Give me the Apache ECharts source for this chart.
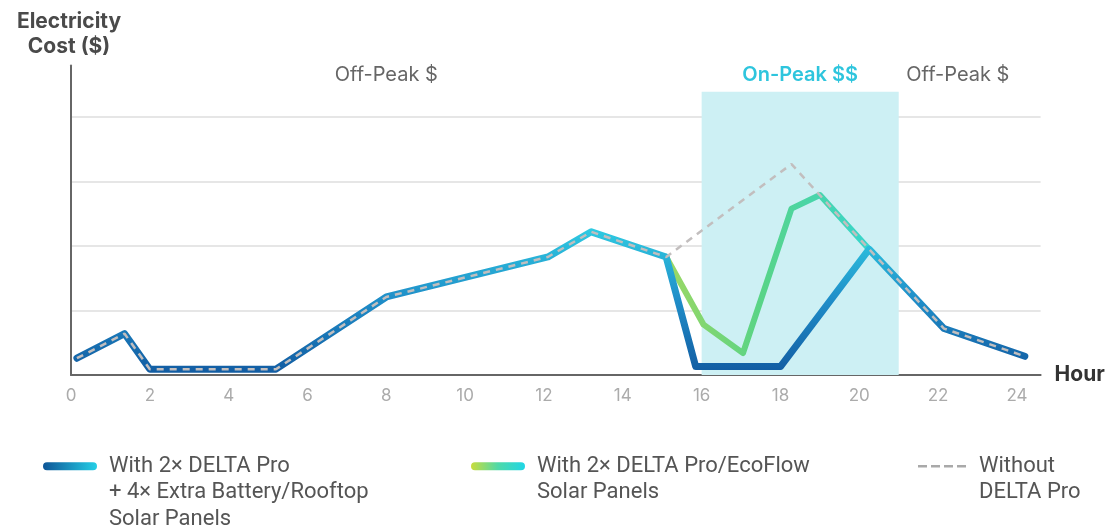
<!DOCTYPE html>
<html><head><meta charset="utf-8">
<script src="https://cdn.jsdelivr.net/npm/echarts@6/dist/echarts.min.js"></script>
<style>html,body{margin:0;padding:0;background:#fff}#c{width:1113px;height:527px}</style>
</head><body><div id="c"></div>
<script>
// ---- data (hours, relative cost) ----
const xTicks = [0, 2, 4, 6, 8, 10, 12, 14, 16, 18, 20, 22, 24];

const blueName = 'With 2× DELTA Pro + 4× Extra Battery/Rooftop Solar Panels';
const blueHours = [0.15, 1.36, 2, 5.2, 8, 12.1, 13.2, 15.1, 15.85, 18, 20.25, 22.15, 24.2];
const blueCost  = [0.26, 0.64, 0.09, 0.09, 1.21, 1.83, 2.22, 1.83, 0.13, 0.13, 1.95, 0.72, 0.29];

const greenName = 'With 2× DELTA Pro/EcoFlow Solar Panels';
const greenHours = [15.1, 16.05, 17.05, 18.28, 19, 20.25];
const greenCost  = [1.83, 0.78, 0.34, 2.58, 2.79, 1.95];

const grayName = 'Without DELTA Pro';
const grayHours = [0.15, 1.36, 2, 5.2, 8, 12.1, 13.2, 15.1, 18.28, 20.25, 22.15, 24.2];
const grayCost  = [0.26, 0.64, 0.09, 0.09, 1.21, 1.83, 2.22, 1.83, 3.27, 1.95, 0.72, 0.29];

const periodNames = ['Off-Peak $', 'On-Peak $$', 'Off-Peak $'];
const periodStart = [0, 16, 21];
const periodEnd   = [16, 21, 24];
const periodTop = 4.39;

const legendLines = {};
legendLines[blueName] = ['With 2× DELTA Pro', '+ 4× Extra Battery/Rooftop', 'Solar Panels'];
legendLines[greenName] = ['With 2× DELTA Pro/EcoFlow', 'Solar Panels'];
legendLines[grayName] = ['Without', 'DELTA Pro'];

// ---- build ----
const zip = (xs, ys) => xs.map((x, i) => [x, ys[i]]);
const G = echarts.graphic.LinearGradient;
const blueGradV = new G(0, 1, 0, 0, [{offset: 0, color: '#125ca2'}, {offset: 0.5, color: '#1f8dc8'}, {offset: 1, color: '#2fcbe2'}]);
const greenGradH = new G(0, 0, 1, 0, [{offset: 0, color: '#9fd862'}, {offset: 0.45, color: '#5ad485'}, {offset: 1, color: '#36d6cf'}]);
const blueLegend = new G(0, 0, 1, 0, [{offset: 0, color: '#0e5597'}, {offset: 1, color: '#25cfe6'}]);
const greenLegend = new G(0, 0, 1, 0, [{offset: 0, color: '#c9dc3c'}, {offset: 0.5, color: '#4fd9a8'}, {offset: 1, color: '#1fd6e6'}]);

const FONT = 'Inter, "Open Sans", sans-serif';
const LFONT = 'Roboto, "Noto Sans", sans-serif';
const LH = 26.5;

const areaData = periodNames.map((n, i) => {
  const on = i === 1;
  return [{
    name: n, xAxis: periodStart[i], yAxis: 0,
    itemStyle: {color: on ? '#cdf0f4' : 'rgba(0,0,0,0)'},
    label: {
      show: true, position: 'top', distance: 7, fontFamily: FONT, fontSize: 20,
      color: on ? '#2ec5dd' : '#666', fontWeight: on ? 600 : 'normal'
    }
  }, {xAxis: periodEnd[i], yAxis: periodTop}];
});

// legend icon: a shape on the first text line, inside an icon box as tall as the text block
function pillIcon(lines) {
  const h = lines * LH, y = LH / 2 - 4;
  return 'path://M4,' + y + 'h46a4,4 0 0 1 0,8h-46a4,4 0 0 1 0,-8z M0,0h0.01v0.01z M0,' + (h - 0.01) + 'h0.01v0.01z';
}
function dashIcon(lines) {
  const h = lines * LH, y = LH / 2 - 1.25;
  let p = 'path://';
  for (let i = 0; i < 4; i++) p += 'M' + (i * 13) + ',' + y + 'h9v2.5h-9z ';
  return p + 'M0,0h0.01v0.01z M0,' + (h - 0.01) + 'h0.01v0.01z';
}
function legendBlock(name, left, icon, iconColor, w) {
  const lines = legendLines[name].length;
  return {
    left: left, top: 448, orient: 'vertical', selectedMode: false,
    itemWidth: w, itemHeight: lines * LH,
    data: [{name: name, icon: icon, itemStyle: {color: iconColor}}],
    formatter: n => legendLines[n].join('\n'),
    textStyle: {fontFamily: LFONT, fontSize: 22, color: '#555', lineHeight: LH, padding: [0, 0, 0, 7]}
  };
}

const option = {
  animation: false,
  grid: {left: 71, right: 72.4, top: 65.4, bottom: 152},
  xAxis: {
    type: 'value', min: 0, max: 24.6,
    axisLine: {lineStyle: {color: '#666', width: 2}},
    axisTick: {show: false},
    splitLine: {show: false},
    axisLabel: {customValues: xTicks, color: '#ababab', fontSize: 17, margin: 12, fontFamily: FONT},
    name: 'Hour', nameLocation: 'end', nameGap: 14,
    nameTextStyle: {fontFamily: FONT, fontSize: 21, fontWeight: 'bold', color: '#333', verticalAlign: 'middle'}
  },
  yAxis: {
    type: 'value', min: 0, max: 4.8, interval: 1,
    axisLine: {show: true, lineStyle: {color: '#666', width: 2}},
    axisTick: {show: false},
    axisLabel: {show: false},
    splitLine: {lineStyle: {color: ['#e6e6e6', '#e6e6e6', '#e6e6e6', '#e6e6e6', '#e6e6e6', 'rgba(0,0,0,0)'], width: 2}},
    name: 'Electricity\nCost ($)', nameLocation: 'end', nameGap: 6,
    nameTextStyle: {fontFamily: FONT, fontSize: 21, fontWeight: 'bold', color: '#4a4a4a', align: 'center', lineHeight: 25, padding: [0, 4, 0, 0]}
  },
  legend: [
    legendBlock(blueName, 38, pillIcon(3), blueLegend, 54),
    legendBlock(greenName, 466, pillIcon(2), greenLegend, 54),
    legendBlock(grayName, 913, dashIcon(2), '#a9a9a9', 50)
  ],
  series: [
    {
      name: greenName, type: 'line', data: zip(greenHours, greenCost), symbol: 'none',
      lineStyle: {color: greenGradH, width: 6, join: 'round', cap: 'round'},
      itemStyle: {color: '#5ad485'},
      markArea: {silent: true, data: areaData}
    },
    {
      name: blueName, type: 'line', data: zip(blueHours, blueCost), symbol: 'none',
      lineStyle: {color: blueGradV, width: 7, join: 'round', cap: 'round'},
      itemStyle: {color: '#1f8cc6'}
    },
    {
      name: grayName, type: 'line', data: zip(grayHours, grayCost), symbol: 'none',
      lineStyle: {color: '#c2bebe', width: 2.5, type: [7, 6]},
      itemStyle: {color: '#a9a9a9'}
    }
  ]
};
echarts.init(document.getElementById('c')).setOption(option);
</script></body></html>
